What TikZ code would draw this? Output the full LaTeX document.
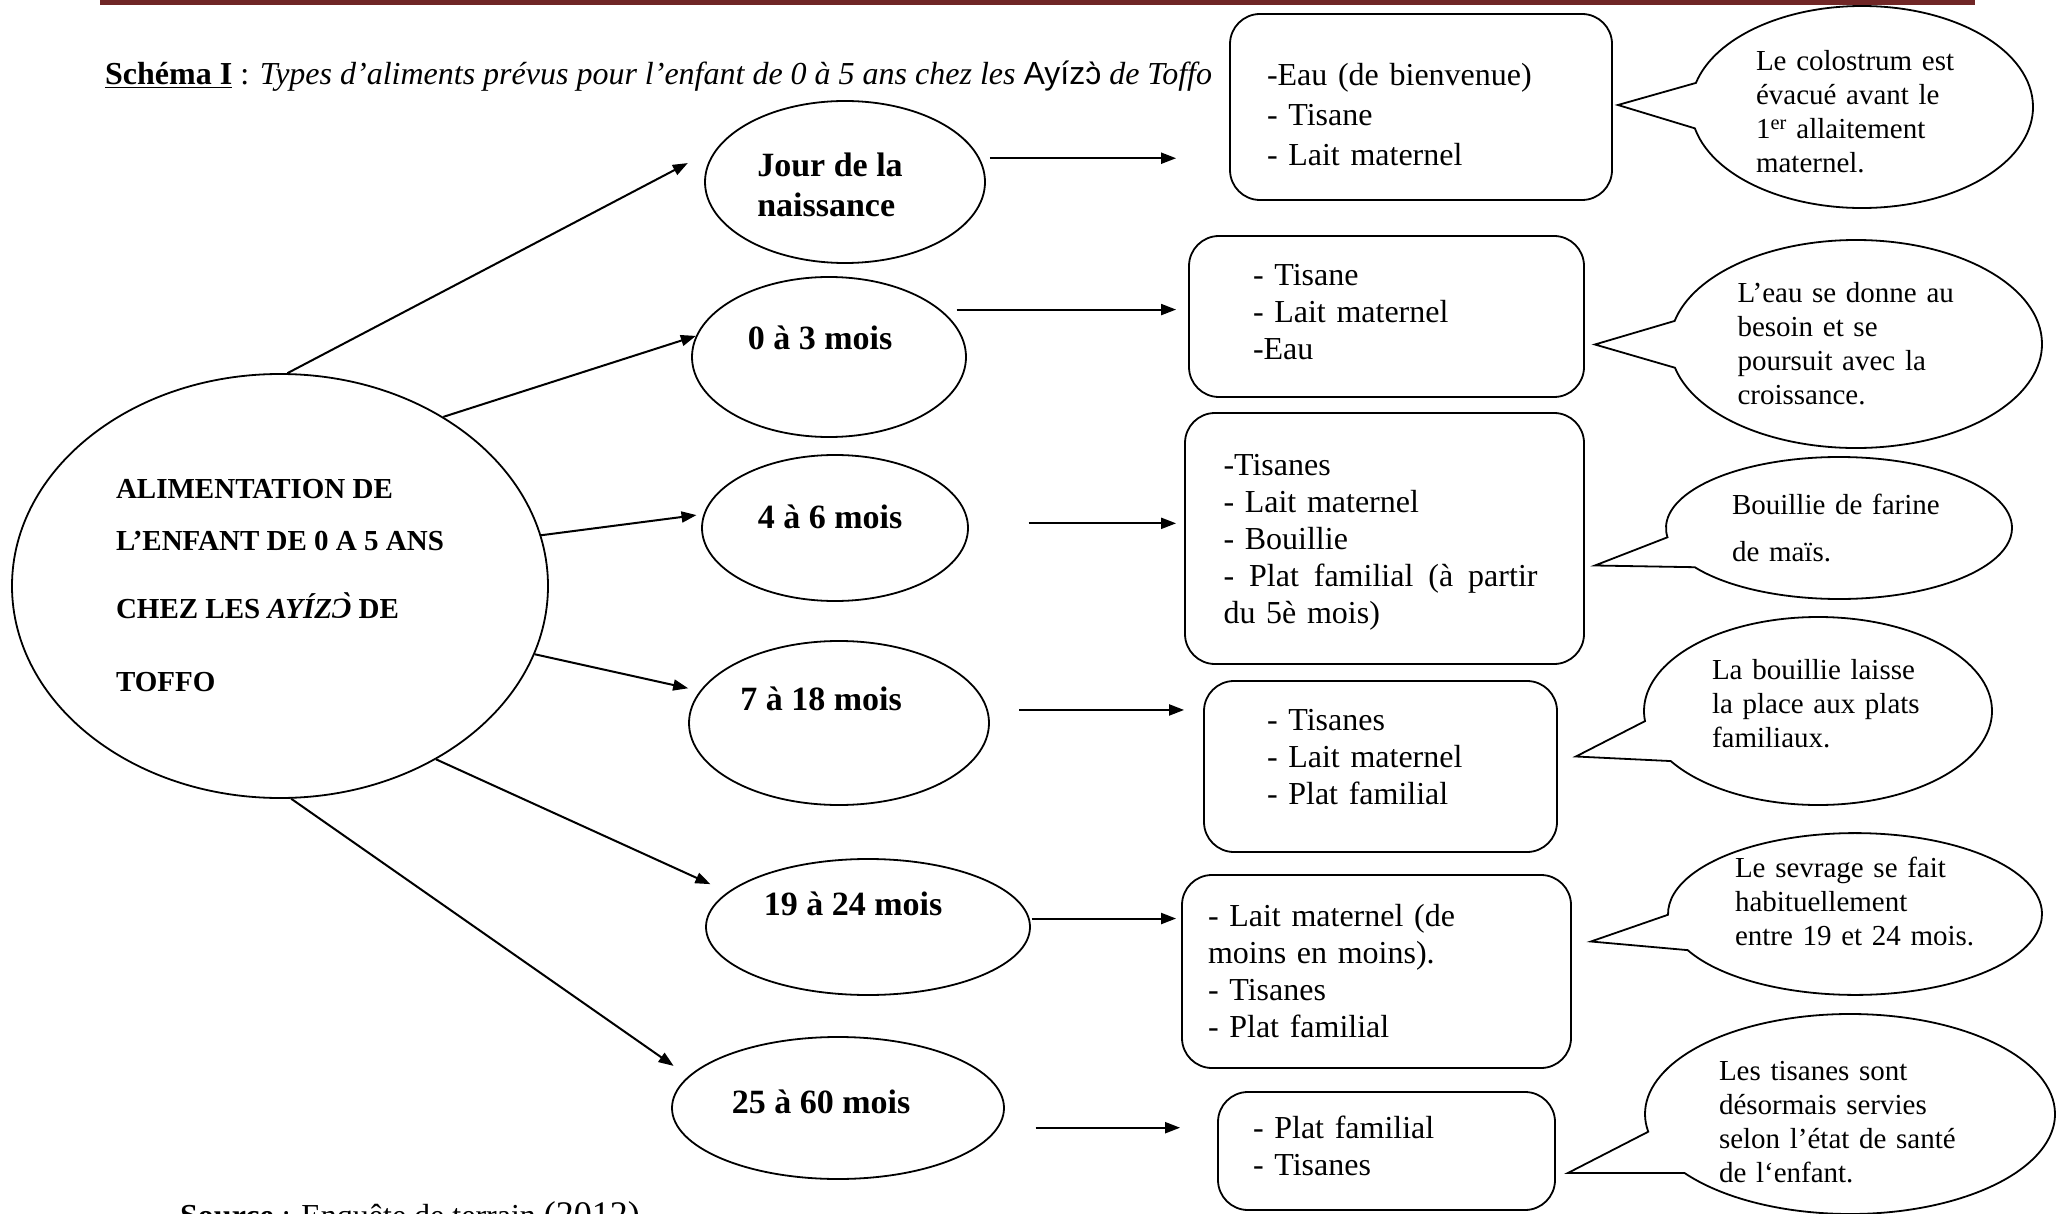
\documentclass[tikz,border=0pt]{standalone}
\usepackage{fontspec}
\setmainfont{Liberation Serif}
\newfontfamily\arialfont{Liberation Sans}
\usetikzlibrary{shapes.geometric,shapes.callouts,arrows.meta,calc}
\definecolor{barred}{RGB}{112,38,38}

\tikzset{
  agebubble/.style={ellipse,draw,line width=1.8pt},
  agetext/.style={font=\fontsize{34}{40}\selectfont\bfseries,align=left},
  foodbox/.style={draw,line width=1.8pt,rounded corners=30pt,align=left,font=\fontsize{32}{37}\selectfont},
  remark/.style={ellipse callout,draw,line width=1.8pt,callout pointer arc=26,align=left,font=\fontsize{29}{34}\selectfont},
  link/.style={->,line width=2pt}
}

\begin{document}
\begin{tikzpicture}[x=1pt,y=-1pt,every node/.style={inner sep=0pt},>={Triangle[length=15pt,width=11pt]}]
    \useasboundingbox (0,0) rectangle (2057,1214);
    \fill[barred] (100,0) rectangle (1975,5);

    \node[anchor=base west,font=\fontsize{32}{36}\selectfont] (titre) at (105,85) {\textbf{\underline{Schéma I}} : \textit{Types d’aliments prévus pour l’enfant de 0 à 5 ans chez les }{\arialfont Ayízɔ̀}\textit{ de Toffo}};
    \node[anchor=base west,font=\fontsize{32}{36}\selectfont] (source) at (180,1226) {\textbf{Source} : Enquête de terrain {\fontsize{36}{40}\selectfont(2012)}};

    \node[agebubble,minimum width=536pt,minimum height=424pt,font=\fontsize{29}{52}\selectfont\bfseries,align=left] (alim) at (280,586) {ALIMENTATION DE\\L’ENFANT DE 0 A 5 ANS\\[16pt]CHEZ LES \textit{AYÍZƆ̀} DE\\[21pt]TOFFO};

    \node[agebubble,minimum width=280pt,minimum height=162pt] (jour) at (845,182) {};
    \node[agebubble,minimum width=274pt,minimum height=160pt] (m03) at (829,357) {};
    \node[agebubble,minimum width=266pt,minimum height=146pt] (m46) at (835,528) {};
    \node[agebubble,minimum width=300pt,minimum height=164pt] (m718) at (839,723) {};
    \node[agebubble,minimum width=324pt,minimum height=136pt] (m1924) at (868,927) {};
    \node[agebubble,minimum width=332pt,minimum height=142pt] (m2560) at (838,1108) {};

    \node[agetext] (tjour) at (830,185) {Jour de la\\naissance};
    \node[agetext] (t03) at (820,338) {0 à 3 mois};
    \node[agetext] (t46) at (830,517) {4 à 6 mois};
    \node[agetext] (t718) at (821,699) {7 à 18 mois};
    \node[agetext] (t1924) at (853,904) {19 à 24 mois};
    \node[agetext] (t2560) at (821,1102) {25 à 60 mois};

    \node[foodbox,minimum width=382pt,minimum height=186pt,text width=308pt,font=\fontsize{32}{40}\selectfont] (box1) at (1421,107) {\rule{0pt}{38pt}-Eau (de bienvenue)\\- Tisane\\- Lait maternel};
    \node[foodbox,minimum width=395pt,minimum height=161pt,text width=267pt] (box2) at (1386.5,316.5) {- Tisane\\- Lait maternel\\-Eau\rule[-10pt]{0pt}{0pt}};
    \node[foodbox,minimum width=399pt,minimum height=251pt,text width=322pt] (box3) at (1384.5,538.5) {\rule{0pt}{29pt}-Tisanes\\- Lait maternel\\- Bouillie\\\makebox[314pt][l]{-\hfill Plat\hfill familial\hfill (à\hfill partir}\\du 5è mois)};
    \node[foodbox,minimum width=353pt,minimum height=171pt,text width=227pt] (box4) at (1380.5,766.5) {- Tisanes\\- Lait maternel\\- Plat familial\rule[-20pt]{0pt}{0pt}};
    \node[foodbox,minimum width=389pt,minimum height=193pt,text width=337pt] (box5) at (1376.5,971.5) {- Lait maternel (de\\moins en moins).\\- Tisanes\\- Plat familial};
    \node[foodbox,minimum width=337pt,minimum height=118pt,text width=267pt] (box6) at (1386.5,1151) {- Plat familial\\- Tisanes\rule[-10pt]{0pt}{0pt}};

    \node[remark,minimum width=342pt,minimum height=202pt,text width=212pt,callout absolute pointer={($(box1.east)+(5,-2)$)}] (c1) at (1862,107) {\rule{0pt}{30pt}Le colostrum est\\évacué avant le\\1\textsuperscript{er} allaitement\\maternel.};
    \node[remark,minimum width=372pt,minimum height=208pt,text width=237pt,callout absolute pointer={($(box2.east)+(10,28)$)}] (c2) at (1856,344) {L’eau se donne au\\besoin et se\\poursuit avec la\\croissance.};
    \node[remark,minimum width=346pt,minimum height=142pt,text width=214pt,callout absolute pointer={($(box3.east)+(10,27)$)}] (c3) at (1839,528) {Bouillie de farine\\[13pt]de maïs.};
    \node[remark,minimum width=348pt,minimum height=188pt,text width=212pt,callout absolute pointer={($(box4.east)+(18,-10)$)}] (c4) at (1818,711) {La bouillie laisse\\la place aux plats\\familiaux.\rule[-16pt]{0pt}{0pt}};
    \node[remark,minimum width=374pt,minimum height=160pt,text width=240pt,callout absolute pointer={($(box5.east)+(19,-30)$)}] (c5) at (1855,914) {Le sevrage se fait\\habituellement\\entre 19 et 24 mois.\rule[-26pt]{0pt}{0pt}};
    \node[remark,minimum width=410pt,minimum height=200pt,text width=262pt,callout absolute pointer={($(box6.east)+(12,22)$)}] (c6) at (1850,1114) {\rule{0pt}{36pt}Les tisanes sont\\désormais servies\\selon l’état de santé\\de l‘enfant.};

    \path[link] (alim.88) edge[shorten >=33pt] (jour.165);
    \path[link] (alim.46) edge (m03.171);
    \path[link] (alim.11) edge[shorten >=7pt] (m46.174);
    \path[link] (alim.-15) edge[shorten >=12pt] (m718.167);
    \path[link] (alim.-48) edge[shorten >=19pt] (m1924.166);
    \path[link] (alim.-87) edge[shorten >=18pt] (m2560.168);

    \path[link] (jour.10) edge[shorten <=10pt,shorten >=53pt] (jour.10 -| box1.west);
    \path[link] (m03.23) edge[shorten <=16pt,shorten >=12pt] (m03.23 -| box2.west);
    \path[link] (m46.2) edge[shorten <=60pt,shorten >=8pt] (m46.2 -| box3.west);
    \path[link] (m718.5) edge[shorten <=31pt,shorten >=19pt] (m718.5 -| box4.west);
    \path[link] (m1924.3) edge[shorten <=2pt,shorten >=5pt] (m1924.3 -| box5.west);
    \path[link] (m2560.-7) edge[shorten <=37pt,shorten >=37pt] (m2560.-7 -| box6.west);
\end{tikzpicture}
\end{document}
